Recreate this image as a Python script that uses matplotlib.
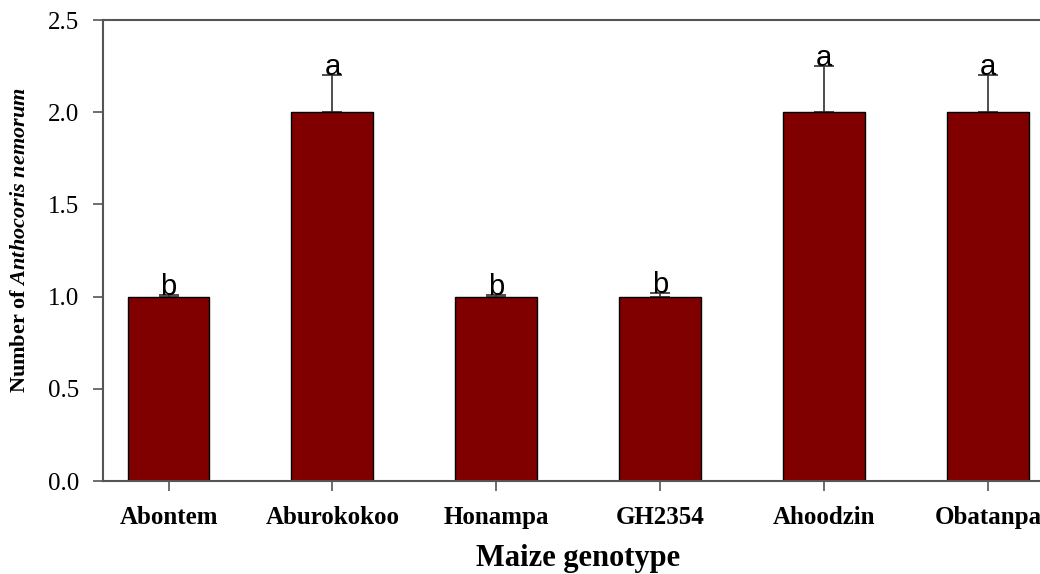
import matplotlib.pyplot as plt
import numpy as np

genotypes = ['Abontem', 'Aburokokoo', 'Honampa', 'GH2354', 'Ahoodzin', 'Obatanpa']
counts = [1.0, 2.0, 1.0, 1.0, 2.0, 2.0]
errors = [0.01, 0.2, 0.01, 0.02, 0.25, 0.2]
letters = ['b', 'a', 'b', 'b', 'a', 'a']

plt.rcParams['font.family'] = 'Liberation Serif'
plt.rcParams['mathtext.fontset'] = 'custom'
plt.rcParams['mathtext.rm'] = 'Liberation Serif:bold'
plt.rcParams['mathtext.bfit'] = 'Liberation Serif:italic:bold'
plt.rcParams['mathtext.it'] = 'Liberation Serif:italic:bold'

fig = plt.figure(figsize=(10.4, 5.74), dpi=100)
ax = fig.add_axes([0.099, 0.162, 0.914, 0.803])

x = np.arange(len(genotypes))
ax.bar(x, counts, width=0.5, color='#800000', edgecolor='black', linewidth=1.0, zorder=2)
ax.errorbar(x, counts, yerr=[np.zeros(len(errors)), errors], fmt='none',
            ecolor='#303030', elinewidth=1.2, capsize=7, capthick=1.2, zorder=1)

for xi, c, e, l in zip(x, counts, errors, letters):
    ax.text(xi, c + e, l, ha='center', va='baseline', fontsize=21,
            family='Liberation Sans', zorder=3)

ax.set_xlim(-0.4, 5.4)
ax.set_ylim(0, 2.5)
ax.set_yticks([0.0, 0.5, 1.0, 1.5, 2.0, 2.5])
ax.set_yticklabels(['0.0', '0.5', '1.0', '1.5', '2.0', '2.5'], fontsize=18)
ax.set_xticks(x)
ax.set_xticklabels(genotypes, fontsize=18, fontweight='bold')
ax.tick_params(direction='out', length=7, width=1.2, color='#555555')
ax.tick_params(axis='y', pad=10)
ax.tick_params(axis='x', pad=11)

for s in ax.spines.values():
    s.set_color('#555555')
    s.set_linewidth(1.5)

ax.set_ylabel(r'Number of $\mathit{Anthocoris\ nemorum}$', fontsize=16,
              fontweight='bold')
ax.yaxis.set_label_coords(-0.077, 0.522)
ax.set_xlabel('Maize genotype', fontsize=22, fontweight='bold', labelpad=11)

fig.savefig('out.png', dpi=100)
